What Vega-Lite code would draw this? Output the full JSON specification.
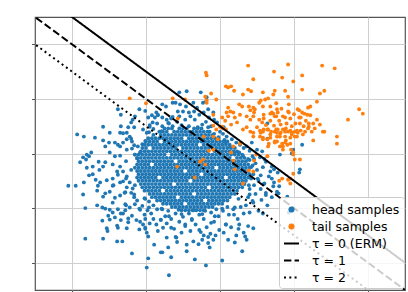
{
"$schema":"https://vega.github.io/schema/vega-lite/v6.json",
"width":370,"height":273,"autosize":"none",
"padding":{"left":35,"top":17,"right":3,"bottom":2},
"background":"white",
"config":{"view":{"stroke":"#555555","strokeWidth":1.2},"font":"DejaVu Sans"},
"datasets":{
"head":[
{"x":-0.75,"y":0.46},{"x":-0.7,"y":0.46},{"x":-0.65,"y":0.46},{"x":-0.55,"y":0.46},{"x":-0.5,"y":0.46},{"x":-0.45,"y":0.46},{"x":-0.35,"y":0.46},{"x":-0.3,"y":0.46},{"x":-0.25,"y":0.46},
{"x":-0.82,"y":0.4},{"x":-0.77,"y":0.4},{"x":-0.72,"y":0.4},{"x":-0.62,"y":0.4},{"x":-0.57,"y":0.4},{"x":-0.52,"y":0.4},{"x":-0.47,"y":0.4},{"x":-0.42,"y":0.4},{"x":-0.37,"y":0.4},{"x":-0.32,"y":0.4},{"x":-0.27,"y":0.4},{"x":-0.22,"y":0.4},{"x":-0.17,"y":0.4},
{"x":-0.9,"y":0.34},{"x":-0.8,"y":0.34},{"x":-0.75,"y":0.34},{"x":-0.7,"y":0.34},{"x":-0.65,"y":0.34},{"x":-0.6,"y":0.34},{"x":-0.55,"y":0.34},{"x":-0.5,"y":0.34},{"x":-0.45,"y":0.34},{"x":-0.4,"y":0.34},{"x":-0.35,"y":0.34},{"x":-0.3,"y":0.34},{"x":-0.25,"y":0.34},{"x":-0.2,"y":0.34},{"x":-0.15,"y":0.34},{"x":-0.1,"y":0.34},
{"x":-0.97,"y":0.28},{"x":-0.92,"y":0.28},{"x":-0.87,"y":0.28},{"x":-0.82,"y":0.28},{"x":-0.77,"y":0.28},{"x":-0.72,"y":0.28},{"x":-0.67,"y":0.28},{"x":-0.62,"y":0.28},{"x":-0.57,"y":0.28},{"x":-0.52,"y":0.28},{"x":-0.42,"y":0.28},{"x":-0.37,"y":0.28},{"x":-0.32,"y":0.28},{"x":-0.27,"y":0.28},{"x":-0.22,"y":0.28},{"x":-0.17,"y":0.28},{"x":-0.12,"y":0.28},{"x":-0.07,"y":0.28},{"x":-0.02,"y":0.28},
{"x":-1,"y":0.22},{"x":-0.95,"y":0.22},{"x":-0.9,"y":0.22},{"x":-0.85,"y":0.22},{"x":-0.75,"y":0.22},{"x":-0.7,"y":0.22},{"x":-0.65,"y":0.22},{"x":-0.6,"y":0.22},{"x":-0.55,"y":0.22},{"x":-0.5,"y":0.22},{"x":-0.45,"y":0.22},{"x":-0.4,"y":0.22},{"x":-0.35,"y":0.22},{"x":-0.3,"y":0.22},{"x":-0.25,"y":0.22},{"x":-0.2,"y":0.22},{"x":-0.15,"y":0.22},{"x":-0.1,"y":0.22},{"x":-0.05,"y":0.22},{"x":0,"y":0.22},{"x":0.05,"y":0.22},
{"x":-1.02,"y":0.16},{"x":-0.97,"y":0.16},{"x":-0.92,"y":0.16},{"x":-0.87,"y":0.16},{"x":-0.82,"y":0.16},{"x":-0.77,"y":0.16},{"x":-0.72,"y":0.16},{"x":-0.67,"y":0.16},{"x":-0.62,"y":0.16},{"x":-0.57,"y":0.16},{"x":-0.52,"y":0.16},{"x":-0.47,"y":0.16},{"x":-0.42,"y":0.16},{"x":-0.37,"y":0.16},{"x":-0.32,"y":0.16},{"x":-0.22,"y":0.16},{"x":-0.17,"y":0.16},{"x":-0.12,"y":0.16},{"x":-0.07,"y":0.16},{"x":-0.02,"y":0.16},{"x":0.03,"y":0.16},{"x":0.08,"y":0.16},{"x":0.13,"y":0.16},
{"x":-1.05,"y":0.1},{"x":-1,"y":0.1},{"x":-0.9,"y":0.1},{"x":-0.85,"y":0.1},{"x":-0.8,"y":0.1},{"x":-0.75,"y":0.1},{"x":-0.7,"y":0.1},{"x":-0.65,"y":0.1},{"x":-0.6,"y":0.1},{"x":-0.5,"y":0.1},{"x":-0.45,"y":0.1},{"x":-0.4,"y":0.1},{"x":-0.35,"y":0.1},{"x":-0.3,"y":0.1},{"x":-0.25,"y":0.1},{"x":-0.2,"y":0.1},{"x":-0.15,"y":0.1},{"x":-0.1,"y":0.1},{"x":-0.05,"y":0.1},{"x":0,"y":0.1},{"x":0.05,"y":0.1},{"x":0.1,"y":0.1},{"x":0.15,"y":0.1},
{"x":-1.07,"y":0.04},{"x":-1.02,"y":0.04},{"x":-0.97,"y":0.04},{"x":-0.92,"y":0.04},{"x":-0.87,"y":0.04},{"x":-0.82,"y":0.04},{"x":-0.77,"y":0.04},{"x":-0.72,"y":0.04},{"x":-0.67,"y":0.04},{"x":-0.62,"y":0.04},{"x":-0.57,"y":0.04},{"x":-0.52,"y":0.04},{"x":-0.47,"y":0.04},{"x":-0.42,"y":0.04},{"x":-0.37,"y":0.04},{"x":-0.32,"y":0.04},{"x":-0.27,"y":0.04},{"x":-0.22,"y":0.04},{"x":-0.17,"y":0.04},{"x":-0.07,"y":0.04},{"x":-0.02,"y":0.04},{"x":0.03,"y":0.04},{"x":0.08,"y":0.04},{"x":0.13,"y":0.04},{"x":0.18,"y":0.04},{"x":0.23,"y":0.04},
{"x":-1.1,"y":-0.02},{"x":-1.05,"y":-0.02},{"x":-1,"y":-0.02},{"x":-0.95,"y":-0.02},{"x":-0.9,"y":-0.02},{"x":-0.85,"y":-0.02},{"x":-0.8,"y":-0.02},{"x":-0.75,"y":-0.02},{"x":-0.65,"y":-0.02},{"x":-0.6,"y":-0.02},{"x":-0.55,"y":-0.02},{"x":-0.5,"y":-0.02},{"x":-0.45,"y":-0.02},{"x":-0.4,"y":-0.02},{"x":-0.35,"y":-0.02},{"x":-0.3,"y":-0.02},{"x":-0.25,"y":-0.02},{"x":-0.2,"y":-0.02},{"x":-0.15,"y":-0.02},{"x":-0.1,"y":-0.02},{"x":-0.05,"y":-0.02},{"x":0,"y":-0.02},{"x":0.05,"y":-0.02},{"x":0.1,"y":-0.02},{"x":0.15,"y":-0.02},{"x":0.2,"y":-0.02},{"x":0.25,"y":-0.02},
{"x":-1.12,"y":-0.08},{"x":-1.07,"y":-0.08},{"x":-1.02,"y":-0.08},{"x":-0.97,"y":-0.08},{"x":-0.92,"y":-0.08},{"x":-0.87,"y":-0.08},{"x":-0.82,"y":-0.08},{"x":-0.77,"y":-0.08},{"x":-0.72,"y":-0.08},{"x":-0.67,"y":-0.08},{"x":-0.62,"y":-0.08},{"x":-0.57,"y":-0.08},{"x":-0.52,"y":-0.08},{"x":-0.47,"y":-0.08},{"x":-0.42,"y":-0.08},{"x":-0.37,"y":-0.08},{"x":-0.32,"y":-0.08},{"x":-0.27,"y":-0.08},{"x":-0.22,"y":-0.08},{"x":-0.17,"y":-0.08},{"x":-0.12,"y":-0.08},{"x":-0.07,"y":-0.08},{"x":-0.02,"y":-0.08},{"x":0.03,"y":-0.08},{"x":0.08,"y":-0.08},{"x":0.13,"y":-0.08},{"x":0.23,"y":-0.08},{"x":0.28,"y":-0.08},{"x":0.33,"y":-0.08},
{"x":-1.1,"y":-0.14},{"x":-1.05,"y":-0.14},{"x":-1,"y":-0.14},{"x":-0.95,"y":-0.14},{"x":-0.9,"y":-0.14},{"x":-0.85,"y":-0.14},{"x":-0.8,"y":-0.14},{"x":-0.75,"y":-0.14},{"x":-0.7,"y":-0.14},{"x":-0.65,"y":-0.14},{"x":-0.55,"y":-0.14},{"x":-0.5,"y":-0.14},{"x":-0.45,"y":-0.14},{"x":-0.4,"y":-0.14},{"x":-0.35,"y":-0.14},{"x":-0.3,"y":-0.14},{"x":-0.25,"y":-0.14},{"x":-0.2,"y":-0.14},{"x":-0.15,"y":-0.14},{"x":-0.1,"y":-0.14},{"x":-0.05,"y":-0.14},{"x":0,"y":-0.14},{"x":0.05,"y":-0.14},{"x":0.1,"y":-0.14},{"x":0.15,"y":-0.14},{"x":0.2,"y":-0.14},{"x":0.25,"y":-0.14},{"x":0.3,"y":-0.14},{"x":0.35,"y":-0.14},
{"x":-1.12,"y":-0.2},{"x":-1.07,"y":-0.2},{"x":-1.02,"y":-0.2},{"x":-0.97,"y":-0.2},{"x":-0.87,"y":-0.2},{"x":-0.82,"y":-0.2},{"x":-0.77,"y":-0.2},{"x":-0.72,"y":-0.2},{"x":-0.67,"y":-0.2},{"x":-0.62,"y":-0.2},{"x":-0.57,"y":-0.2},{"x":-0.52,"y":-0.2},{"x":-0.47,"y":-0.2},{"x":-0.42,"y":-0.2},{"x":-0.37,"y":-0.2},{"x":-0.32,"y":-0.2},{"x":-0.27,"y":-0.2},{"x":-0.22,"y":-0.2},{"x":-0.17,"y":-0.2},{"x":-0.12,"y":-0.2},{"x":-0.07,"y":-0.2},{"x":-0.02,"y":-0.2},{"x":0.03,"y":-0.2},{"x":0.08,"y":-0.2},{"x":0.13,"y":-0.2},{"x":0.18,"y":-0.2},{"x":0.23,"y":-0.2},{"x":0.28,"y":-0.2},{"x":0.33,"y":-0.2},{"x":0.38,"y":-0.2},
{"x":-1.15,"y":-0.26},{"x":-1.1,"y":-0.26},{"x":-1.05,"y":-0.26},{"x":-1,"y":-0.26},{"x":-0.95,"y":-0.26},{"x":-0.9,"y":-0.26},{"x":-0.85,"y":-0.26},{"x":-0.8,"y":-0.26},{"x":-0.75,"y":-0.26},{"x":-0.7,"y":-0.26},{"x":-0.65,"y":-0.26},{"x":-0.6,"y":-0.26},{"x":-0.55,"y":-0.26},{"x":-0.5,"y":-0.26},{"x":-0.45,"y":-0.26},{"x":-0.4,"y":-0.26},{"x":-0.35,"y":-0.26},{"x":-0.3,"y":-0.26},{"x":-0.25,"y":-0.26},{"x":-0.2,"y":-0.26},{"x":-0.15,"y":-0.26},{"x":-0.1,"y":-0.26},{"x":0,"y":-0.26},{"x":0.05,"y":-0.26},{"x":0.1,"y":-0.26},{"x":0.15,"y":-0.26},{"x":0.2,"y":-0.26},{"x":0.25,"y":-0.26},{"x":0.3,"y":-0.26},{"x":0.35,"y":-0.26},{"x":0.4,"y":-0.26},
{"x":-1.12,"y":-0.32},{"x":-1.07,"y":-0.32},{"x":-1.02,"y":-0.32},{"x":-0.97,"y":-0.32},{"x":-0.92,"y":-0.32},{"x":-0.87,"y":-0.32},{"x":-0.82,"y":-0.32},{"x":-0.77,"y":-0.32},{"x":-0.72,"y":-0.32},{"x":-0.67,"y":-0.32},{"x":-0.62,"y":-0.32},{"x":-0.57,"y":-0.32},{"x":-0.52,"y":-0.32},{"x":-0.42,"y":-0.32},{"x":-0.37,"y":-0.32},{"x":-0.32,"y":-0.32},{"x":-0.27,"y":-0.32},{"x":-0.22,"y":-0.32},{"x":-0.17,"y":-0.32},{"x":-0.12,"y":-0.32},{"x":-0.07,"y":-0.32},{"x":-0.02,"y":-0.32},{"x":0.03,"y":-0.32},{"x":0.08,"y":-0.32},{"x":0.13,"y":-0.32},{"x":0.18,"y":-0.32},{"x":0.23,"y":-0.32},{"x":0.28,"y":-0.32},{"x":0.33,"y":-0.32},{"x":0.38,"y":-0.32},
{"x":-1.1,"y":-0.38},{"x":-1.05,"y":-0.38},{"x":-1,"y":-0.38},{"x":-0.95,"y":-0.38},{"x":-0.9,"y":-0.38},{"x":-0.85,"y":-0.38},{"x":-0.8,"y":-0.38},{"x":-0.75,"y":-0.38},{"x":-0.7,"y":-0.38},{"x":-0.65,"y":-0.38},{"x":-0.6,"y":-0.38},{"x":-0.55,"y":-0.38},{"x":-0.5,"y":-0.38},{"x":-0.45,"y":-0.38},{"x":-0.4,"y":-0.38},{"x":-0.35,"y":-0.38},{"x":-0.3,"y":-0.38},{"x":-0.2,"y":-0.38},{"x":-0.15,"y":-0.38},{"x":-0.1,"y":-0.38},{"x":-0.05,"y":-0.38},{"x":0,"y":-0.38},{"x":0.05,"y":-0.38},{"x":0.1,"y":-0.38},{"x":0.15,"y":-0.38},{"x":0.2,"y":-0.38},{"x":0.25,"y":-0.38},{"x":0.3,"y":-0.38},{"x":0.35,"y":-0.38},{"x":0.4,"y":-0.38},
{"x":-1.12,"y":-0.44},{"x":-1.07,"y":-0.44},{"x":-1.02,"y":-0.44},{"x":-0.97,"y":-0.44},{"x":-0.92,"y":-0.44},{"x":-0.87,"y":-0.44},{"x":-0.77,"y":-0.44},{"x":-0.72,"y":-0.44},{"x":-0.67,"y":-0.44},{"x":-0.62,"y":-0.44},{"x":-0.57,"y":-0.44},{"x":-0.52,"y":-0.44},{"x":-0.47,"y":-0.44},{"x":-0.42,"y":-0.44},{"x":-0.37,"y":-0.44},{"x":-0.32,"y":-0.44},{"x":-0.27,"y":-0.44},{"x":-0.22,"y":-0.44},{"x":-0.17,"y":-0.44},{"x":-0.12,"y":-0.44},{"x":-0.07,"y":-0.44},{"x":-0.02,"y":-0.44},{"x":0.03,"y":-0.44},{"x":0.13,"y":-0.44},{"x":0.18,"y":-0.44},{"x":0.23,"y":-0.44},{"x":0.28,"y":-0.44},{"x":0.33,"y":-0.44},{"x":0.38,"y":-0.44},
{"x":-1.1,"y":-0.5},{"x":-1.05,"y":-0.5},{"x":-1,"y":-0.5},{"x":-0.95,"y":-0.5},{"x":-0.9,"y":-0.5},{"x":-0.85,"y":-0.5},{"x":-0.8,"y":-0.5},{"x":-0.75,"y":-0.5},{"x":-0.7,"y":-0.5},{"x":-0.65,"y":-0.5},{"x":-0.6,"y":-0.5},{"x":-0.55,"y":-0.5},{"x":-0.5,"y":-0.5},{"x":-0.45,"y":-0.5},{"x":-0.35,"y":-0.5},{"x":-0.3,"y":-0.5},{"x":-0.25,"y":-0.5},{"x":-0.2,"y":-0.5},{"x":-0.15,"y":-0.5},{"x":-0.1,"y":-0.5},{"x":-0.05,"y":-0.5},{"x":0,"y":-0.5},{"x":0.05,"y":-0.5},{"x":0.1,"y":-0.5},{"x":0.15,"y":-0.5},{"x":0.2,"y":-0.5},{"x":0.25,"y":-0.5},{"x":0.3,"y":-0.5},{"x":0.35,"y":-0.5},
{"x":-1.07,"y":-0.56},{"x":-1.02,"y":-0.56},{"x":-0.97,"y":-0.56},{"x":-0.92,"y":-0.56},{"x":-0.87,"y":-0.56},{"x":-0.82,"y":-0.56},{"x":-0.77,"y":-0.56},{"x":-0.72,"y":-0.56},{"x":-0.67,"y":-0.56},{"x":-0.57,"y":-0.56},{"x":-0.52,"y":-0.56},{"x":-0.47,"y":-0.56},{"x":-0.42,"y":-0.56},{"x":-0.37,"y":-0.56},{"x":-0.32,"y":-0.56},{"x":-0.27,"y":-0.56},{"x":-0.22,"y":-0.56},{"x":-0.17,"y":-0.56},{"x":-0.12,"y":-0.56},{"x":-0.07,"y":-0.56},{"x":-0.02,"y":-0.56},{"x":0.03,"y":-0.56},{"x":0.08,"y":-0.56},{"x":0.13,"y":-0.56},{"x":0.18,"y":-0.56},{"x":0.23,"y":-0.56},{"x":0.28,"y":-0.56},{"x":0.33,"y":-0.56},
{"x":-1.05,"y":-0.62},{"x":-1,"y":-0.62},{"x":-0.95,"y":-0.62},{"x":-0.9,"y":-0.62},{"x":-0.85,"y":-0.62},{"x":-0.8,"y":-0.62},{"x":-0.75,"y":-0.62},{"x":-0.7,"y":-0.62},{"x":-0.65,"y":-0.62},{"x":-0.6,"y":-0.62},{"x":-0.55,"y":-0.62},{"x":-0.5,"y":-0.62},{"x":-0.45,"y":-0.62},{"x":-0.4,"y":-0.62},{"x":-0.35,"y":-0.62},{"x":-0.3,"y":-0.62},{"x":-0.25,"y":-0.62},{"x":-0.2,"y":-0.62},{"x":-0.1,"y":-0.62},{"x":-0.05,"y":-0.62},{"x":0,"y":-0.62},{"x":0.05,"y":-0.62},{"x":0.1,"y":-0.62},{"x":0.15,"y":-0.62},{"x":0.2,"y":-0.62},{"x":0.25,"y":-0.62},{"x":0.3,"y":-0.62},
{"x":-1.02,"y":-0.68},{"x":-0.97,"y":-0.68},{"x":-0.92,"y":-0.68},{"x":-0.87,"y":-0.68},{"x":-0.82,"y":-0.68},{"x":-0.72,"y":-0.68},{"x":-0.67,"y":-0.68},{"x":-0.62,"y":-0.68},{"x":-0.57,"y":-0.68},{"x":-0.52,"y":-0.68},{"x":-0.47,"y":-0.68},{"x":-0.42,"y":-0.68},{"x":-0.37,"y":-0.68},{"x":-0.32,"y":-0.68},{"x":-0.27,"y":-0.68},{"x":-0.22,"y":-0.68},{"x":-0.17,"y":-0.68},{"x":-0.12,"y":-0.68},{"x":-0.07,"y":-0.68},{"x":-0.02,"y":-0.68},{"x":0.03,"y":-0.68},{"x":0.08,"y":-0.68},{"x":0.13,"y":-0.68},{"x":0.18,"y":-0.68},{"x":0.23,"y":-0.68},
{"x":-0.95,"y":-0.74},{"x":-0.9,"y":-0.74},{"x":-0.85,"y":-0.74},{"x":-0.8,"y":-0.74},{"x":-0.75,"y":-0.74},{"x":-0.7,"y":-0.74},{"x":-0.65,"y":-0.74},{"x":-0.6,"y":-0.74},{"x":-0.55,"y":-0.74},{"x":-0.5,"y":-0.74},{"x":-0.45,"y":-0.74},{"x":-0.4,"y":-0.74},{"x":-0.3,"y":-0.74},{"x":-0.25,"y":-0.74},{"x":-0.2,"y":-0.74},{"x":-0.15,"y":-0.74},{"x":-0.1,"y":-0.74},{"x":-0.05,"y":-0.74},{"x":0,"y":-0.74},{"x":0.05,"y":-0.74},{"x":0.1,"y":-0.74},{"x":0.15,"y":-0.74},{"x":0.2,"y":-0.74},
{"x":-0.92,"y":-0.8},{"x":-0.87,"y":-0.8},{"x":-0.82,"y":-0.8},{"x":-0.77,"y":-0.8},{"x":-0.72,"y":-0.8},{"x":-0.67,"y":-0.8},{"x":-0.62,"y":-0.8},{"x":-0.52,"y":-0.8},{"x":-0.47,"y":-0.8},{"x":-0.42,"y":-0.8},{"x":-0.37,"y":-0.8},{"x":-0.32,"y":-0.8},{"x":-0.27,"y":-0.8},{"x":-0.22,"y":-0.8},{"x":-0.17,"y":-0.8},{"x":-0.12,"y":-0.8},{"x":-0.07,"y":-0.8},{"x":-0.02,"y":-0.8},{"x":0.03,"y":-0.8},{"x":0.08,"y":-0.8},{"x":0.13,"y":-0.8},
{"x":-0.85,"y":-0.86},{"x":-0.8,"y":-0.86},{"x":-0.75,"y":-0.86},{"x":-0.7,"y":-0.86},{"x":-0.65,"y":-0.86},{"x":-0.6,"y":-0.86},{"x":-0.55,"y":-0.86},{"x":-0.5,"y":-0.86},{"x":-0.45,"y":-0.86},{"x":-0.4,"y":-0.86},{"x":-0.35,"y":-0.86},{"x":-0.3,"y":-0.86},{"x":-0.25,"y":-0.86},{"x":-0.15,"y":-0.86},{"x":-0.1,"y":-0.86},{"x":-0.05,"y":-0.86},{"x":0,"y":-0.86},{"x":0.05,"y":-0.86},{"x":0.1,"y":-0.86},
{"x":-0.77,"y":-0.92},{"x":-0.72,"y":-0.92},{"x":-0.67,"y":-0.92},{"x":-0.62,"y":-0.92},{"x":-0.57,"y":-0.92},{"x":-0.52,"y":-0.92},{"x":-0.42,"y":-0.92},{"x":-0.37,"y":-0.92},{"x":-0.32,"y":-0.92},{"x":-0.27,"y":-0.92},{"x":-0.22,"y":-0.92},{"x":-0.17,"y":-0.92},{"x":-0.12,"y":-0.92},{"x":-0.07,"y":-0.92},{"x":-0.02,"y":-0.92},{"x":0.03,"y":-0.92},
{"x":-0.65,"y":-0.98},{"x":-0.6,"y":-0.98},{"x":-0.55,"y":-0.98},{"x":-0.5,"y":-0.98},{"x":-0.45,"y":-0.98},{"x":-0.4,"y":-0.98},{"x":-0.35,"y":-0.98},{"x":-0.3,"y":-0.98},{"x":-0.25,"y":-0.98},{"x":-0.2,"y":-0.98},{"x":-0.15,"y":-0.98},{"x":-0.1,"y":-0.98},
{"x":-0.52,"y":-1.04},{"x":-0.47,"y":-1.04},{"x":-0.42,"y":-1.04},{"x":-0.37,"y":-1.04},{"x":-0.32,"y":-1.04},{"x":-0.27,"y":-1.04},{"x":-0.22,"y":-1.04},
{"x":-2.05,"y":-0.59},{"x":-1.95,"y":-0.59},{"x":-1.84,"y":-0.53},{"x":-1.93,"y":0.35},{"x":-1.84,"y":0.31},{"x":-1.69,"y":0.29},{"x":-1.58,"y":0.24},{"x":-1.58,"y":0.49},{"x":-1.49,"y":0.38},{"x":-1.38,"y":0.81},{"x":-1.34,"y":0.71},{"x":-1.2,"y":0.57},{"x":-1.18,"y":0.62},{"x":-1.15,"y":0.68},{"x":-1.09,"y":0.81},{"x":-1.35,"y":0.38},{"x":-1.31,"y":0.37},{"x":-1.5,"y":0.2},{"x":-1.42,"y":0.2},{"x":-1.26,"y":0.26},{"x":-1.22,"y":0.31},{"x":-1.19,"y":0.22},
{"x":-1.74,"y":0.02},{"x":-1.77,"y":-0.05},{"x":-1.81,"y":-0.11},{"x":-1.85,"y":-0.07},{"x":-1.89,"y":-0.16},{"x":-1.8,"y":-0.02},{"x":-1.72,"y":-0.38},{"x":-1.77,"y":-0.4},{"x":-1.68,"y":-0.48},{"x":-1.8,"y":-0.26},{"x":-1.72,"y":-0.24},{"x":-1.64,"y":-0.15},{"x":-1.58,"y":-0.24},{"x":-1.55,"y":-0.16},{"x":-1.65,"y":-0.59},{"x":-1.66,"y":-0.68},{"x":-1.62,"y":-0.53},{"x":-1.53,"y":-0.49},{"x":-1.45,"y":-0.59},{"x":-1.35,"y":-0.53},{"x":-1.58,"y":-0.79},{"x":-1.49,"y":-0.7},{"x":-1.45,"y":-0.46},{"x":-1.85,"y":-0.75},
{"x":-1.49,"y":0.02},{"x":-1.42,"y":-0.05},{"x":-1.45,"y":-0.2},{"x":-1.39,"y":-0.33},{"x":-1.35,"y":-0.24},{"x":-1.31,"y":-0.33},{"x":-1.26,"y":-0.42},{"x":-1.31,"y":-0.51},{"x":-1.26,"y":-0.62},{"x":-1.22,"y":-0.53},{"x":-1.35,"y":0.13},{"x":-1.31,"y":0.2},{"x":-1.26,"y":0.07},{"x":-1.19,"y":0.09},{"x":-1.15,"y":-0.02},{"x":-1.11,"y":0.13},{"x":-1.26,"y":0.38},{"x":-1.24,"y":0.48},{"x":-1.05,"y":0.17},{"x":-1.08,"y":0.02},{"x":-1.12,"y":-0.09},
{"x":-0.99,"y":0.38},{"x":-1.04,"y":0.44},{"x":-0.95,"y":0.49},{"x":-0.91,"y":0.57},{"x":-0.97,"y":0.66},{"x":-0.92,"y":0.7},{"x":-0.88,"y":0.66},{"x":-0.84,"y":0.71},{"x":-0.78,"y":0.66},{"x":-0.72,"y":0.62},
{"x":-1.82,"y":-1},{"x":-1.82,"y":-1.56},{"x":-1.58,"y":-1.56},{"x":-1.39,"y":-1.61},{"x":-1.32,"y":-1.61},{"x":-1.19,"y":-1.83},{"x":-1.66,"y":-0.95},{"x":-1.59,"y":-0.99},{"x":-1.55,"y":-1.01},{"x":-1.51,"y":-1.14},{"x":-1.59,"y":-1.23},{"x":-1.53,"y":-1.37},{"x":-1.52,"y":-1.42},{"x":-1.39,"y":-1.32},{"x":-1.38,"y":-1.36},{"x":-1.26,"y":-1.37},{"x":-1.42,"y":-0.81},{"x":-1.35,"y":-0.77},{"x":-1.28,"y":-0.71},{"x":-1.18,"y":-0.64},{"x":-1.45,"y":-1.08},{"x":-1.31,"y":-1.1},{"x":-1.24,"y":-1.19},{"x":-1.19,"y":-1.14},{"x":-1.27,"y":-0.95},
{"x":-0.97,"y":-1.92},{"x":-0.99,"y":-2.09},{"x":-0.69,"y":-2.23},{"x":-0.89,"y":-1.67},{"x":-0.8,"y":-1.81},{"x":-0.72,"y":-1.54},{"x":-0.7,"y":-1.72},{"x":-1.09,"y":-1.39},{"x":-1.01,"y":-1.36},{"x":-0.97,"y":-1.52},{"x":-0.99,"y":-1.45},{"x":-1.49,"y":-1.21},{"x":-1.42,"y":-1.17},{"x":-1.34,"y":-1.22},{"x":-1.24,"y":-1.26},{"x":-1.13,"y":-1.22},{"x":-1.08,"y":-1.25},{"x":-1.04,"y":-1.3},{"x":-1.45,"y":-0.9},{"x":-1.38,"y":-1.02},{"x":-1.49,"y":-1.03},{"x":-1.28,"y":-1.04},{"x":-1.22,"y":-0.99},{"x":-1.15,"y":-0.93},{"x":-1.08,"y":-1.03},
{"x":-1.16,"y":-0.8},{"x":-1.2,"y":-0.72},{"x":-1.12,"y":-0.86},{"x":-1.05,"y":-0.96},{"x":-0.98,"y":-1.04},{"x":-1.02,"y":-1.12},{"x":-0.93,"y":-1.1},{"x":-0.9,"y":-1.2},{"x":-0.95,"y":-1.28},{"x":-0.86,"y":-1.3},{"x":-0.8,"y":-1.22},{"x":-0.77,"y":-1.36},{"x":-0.84,"y":-1.42},{"x":-0.72,"y":-1.28},{"x":-1.02,"y":-0.82},{"x":-0.96,"y":-0.88},{"x":-0.9,"y":-0.95},{"x":-0.85,"y":-1.02},
{"x":-0.78,"y":-1.81},{"x":-0.66,"y":-1.9},{"x":-0.19,"y":-2.05},{"x":0.03,"y":-1.96},{"x":-0.34,"y":-1.94},{"x":0.3,"y":-1.79},{"x":0.45,"y":-1.37},{"x":-0.59,"y":-1.54},{"x":-0.58,"y":-1.62},{"x":-0.45,"y":-1.79},{"x":-0.45,"y":-1.67},{"x":-0.36,"y":-1.61},{"x":-0.29,"y":-1.66},{"x":-0.24,"y":-1.58},{"x":-0.14,"y":-1.72},{"x":-0.16,"y":-1.64},{"x":-0.09,"y":-1.58},{"x":-0.22,"y":-1.5},{"x":0.05,"y":-1.45},{"x":-0.01,"y":-1.4},{"x":-0.06,"y":-1.5},{"x":0.11,"y":-1.58},{"x":0.2,"y":-1.63},{"x":0.22,"y":-1.5},{"x":0.34,"y":-1.52},{"x":0.36,"y":-1.58},{"x":0.32,"y":-1.45},{"x":0.38,"y":-1.33},
{"x":-0.74,"y":-1.15},{"x":-0.66,"y":-1.2},{"x":-0.6,"y":-1.1},{"x":-0.55,"y":-1.25},{"x":-0.5,"y":-1.16},{"x":-0.47,"y":-1.33},{"x":-0.42,"y":-1.1},{"x":-0.38,"y":-1.22},{"x":-0.33,"y":-1.3},{"x":-0.28,"y":-1.12},{"x":-0.22,"y":-1.2},{"x":-0.18,"y":-1.35},{"x":-0.12,"y":-1.08},{"x":-0.08,"y":-1.25},{"x":-0.02,"y":-1.15},{"x":0.04,"y":-1.05},{"x":0.08,"y":-1.3},{"x":0.12,"y":-1.12},{"x":0.18,"y":-1.02},{"x":0.24,"y":-1.2},{"x":0.28,"y":-0.98},{"x":0.32,"y":-1.1},{"x":-0.62,"y":-1.38},{"x":-0.52,"y":-1.45},{"x":-0.4,"y":-1.42},{"x":-0.26,"y":-1.44},{"x":-0.13,"y":-1.47},{"x":0.15,"y":-1.35},{"x":0.26,"y":-1.3},{"x":-0.7,"y":-1.05},{"x":-0.56,"y":-1.03},{"x":-0.36,"y":-1.04},{"x":-0.2,"y":-1.05},{"x":-0.05,"y":-1.02},{"x":0.1,"y":-0.98},{"x":-0.78,"y":-1.02},
{"x":0.4,"y":0.05},{"x":0.44,"y":-0.05},{"x":0.4,"y":-0.12},{"x":0.48,"y":-0.18},{"x":0.42,"y":-0.25},{"x":0.5,"y":-0.3},{"x":0.45,"y":-0.38},{"x":0.55,"y":-0.4},{"x":0.42,"y":-0.46},{"x":0.52,"y":-0.5},{"x":0.6,"y":-0.55},{"x":0.46,"y":-0.58},{"x":0.4,"y":-0.65},{"x":0.55,"y":-0.65},{"x":0.62,"y":-0.72},{"x":0.48,"y":-0.74},{"x":0.38,"y":-0.8},{"x":0.56,"y":-0.85},{"x":0.7,"y":-0.8},{"x":0.45,"y":-0.9},{"x":0.64,"y":-0.95},{"x":0.35,"y":-0.95},{"x":0.52,"y":-1.05},{"x":0.72,"y":-0.6},{"x":0.66,"y":-0.42},{"x":0.58,"y":-0.25},{"x":0.6,"y":-0.1},
{"x":0.73,"y":-0.53},{"x":0.8,"y":-0.6},{"x":0.77,"y":-0.7},{"x":0.91,"y":-0.79},{"x":0.97,"y":-1.01},{"x":0.93,"y":-1.08},{"x":0.64,"y":0.55},{"x":0.64,"y":0.27},{"x":0.57,"y":0.04},{"x":0.62,"y":-0.15},{"x":0.7,"y":-0.24},{"x":0.73,"y":-0.29},{"x":0.68,"y":-0.33},{"x":0.78,"y":-0.35},{"x":0.7,"y":-0.46},{"x":0.81,"y":-0.02},{"x":0.97,"y":0},{"x":0.99,"y":0.07},{"x":1.11,"y":0.16},{"x":1.08,"y":-0.29},{"x":1.07,"y":-0.35},
{"x":-0.55,"y":1.12},{"x":-0.45,"y":1.14},{"x":-0.26,"y":1.12},{"x":-0.18,"y":1.03},{"x":-0.19,"y":0.95},{"x":-0.73,"y":0.86},{"x":-0.86,"y":0.75},{"x":-0.57,"y":0.77},{"x":-0.5,"y":0.77},{"x":-0.42,"y":0.75},{"x":-0.35,"y":0.77},{"x":-0.28,"y":0.71},{"x":-0.22,"y":0.75},{"x":-0.16,"y":0.81},{"x":-0.09,"y":0.75},{"x":-0.46,"y":0.86},{"x":-0.36,"y":0.93},{"x":-0.23,"y":0.93},{"x":-0.78,"y":0.9},{"x":-0.64,"y":0.93},{"x":-0.54,"y":0.9},{"x":-0.31,"y":0.84},
{"x":-0.34,"y":0.62},{"x":-0.24,"y":0.53},{"x":-0.16,"y":0.48},{"x":-0.04,"y":0.57},{"x":0,"y":0.4},{"x":0.09,"y":0.31},{"x":0.16,"y":0.26},{"x":0.27,"y":0.16},{"x":0.36,"y":0.13},{"x":0.43,"y":0.2},{"x":0.5,"y":0.07},{"x":0.54,"y":-0.07},
{"x":-0.85,"y":0.55},{"x":-0.78,"y":0.5},{"x":-0.7,"y":0.56},{"x":-0.64,"y":0.5},{"x":-0.58,"y":0.58},{"x":-0.52,"y":0.52},{"x":-0.47,"y":0.62},{"x":-0.42,"y":0.5},{"x":-0.3,"y":0.48},{"x":-0.19,"y":0.58},{"x":-0.12,"y":0.5},{"x":-0.08,"y":0.62},{"x":0.05,"y":0.48},{"x":-0.66,"y":0.64},{"x":-0.55,"y":0.68},{"x":-0.4,"y":0.68},{"x":-0.15,"y":0.66},{"x":-0.9,"y":0.45},
{"x":0.04,"y":0.36},{"x":0.1,"y":0.22},{"x":0.2,"y":0.1},{"x":0.26,"y":0.02},{"x":0.31,"y":-0.04},{"x":0.14,"y":0.12},{"x":0.06,"y":0.25},{"x":0.22,"y":0.2},{"x":0.32,"y":0.1},{"x":0.46,"y":-0.1},
{"x":-0.14,"y":0.4},{"x":-0.08,"y":0.36},{"x":-0.02,"y":0.3},{"x":0.08,"y":0.2},{"x":0.2,"y":0.02},{"x":0.3,"y":-0.02},{"x":0.38,"y":-0.1},{"x":0.44,"y":-0.22},
{"x":-1.2,"y":-0.3},{"x":-1.15,"y":-0.58},{"x":-1.01,"y":-0.83},{"x":-0.79,"y":-1.01},{"x":-0.52,"y":-1.11},{"x":-0.24,"y":-1.11},{"x":0.03,"y":-1.01},{"x":0.25,"y":-0.83},{"x":0.39,"y":-0.58},{"x":-1.15,"y":-0.02},{"x":-1.01,"y":0.23},{"x":-0.79,"y":0.41},
{"x":-1.27,"y":-0.46},{"x":-1.16,"y":-0.75},{"x":-0.96,"y":-0.99},{"x":-0.69,"y":-1.15},{"x":-0.38,"y":-1.2},{"x":-0.07,"y":-1.15},{"x":0.2,"y":-0.99},{"x":0.4,"y":-0.75},{"x":0.51,"y":-0.46},{"x":-1.27,"y":-0.14},{"x":-1.16,"y":0.15},{"x":-0.96,"y":0.39},{"x":-0.69,"y":0.55},
{"x":-1.38,"y":-0.39},{"x":-1.29,"y":-0.72},{"x":-1.09,"y":-1.01},{"x":-0.8,"y":-1.21},{"x":-0.47,"y":-1.3},{"x":-0.12,"y":-1.27},{"x":0.19,"y":-1.12},{"x":0.44,"y":-0.87},{"x":0.59,"y":-0.56},{"x":-1.35,"y":-0.04},{"x":-1.2,"y":0.27},{"x":-0.95,"y":0.52},{"x":-0.64,"y":0.67},
{"x":-1.44,"y":-0.58},{"x":-1.28,"y":-0.93},{"x":-1.01,"y":-1.2},{"x":-0.66,"y":-1.36},{"x":-0.28,"y":-1.4},{"x":0.08,"y":-1.3},{"x":0.4,"y":-1.08},{"x":0.62,"y":-0.76},{"x":-1.38,"y":0.16},{"x":-1.16,"y":0.48},{"x":-0.84,"y":0.7},
{"x":-1.63,"y":-0.3},{"x":-1.55,"y":-0.73},{"x":-1.34,"y":-1.1},{"x":-1.01,"y":-1.38},{"x":-0.6,"y":-1.53},{"x":-0.16,"y":-1.53},{"x":0.25,"y":-1.38},{"x":0.58,"y":-1.1},{"x":0.79,"y":-0.73},{"x":-1.55,"y":0.13},{"x":-1.34,"y":0.5},{"x":-1.01,"y":0.78},{"x":-0.6,"y":0.93}
],
"tail":[
{"x":0.92,"y":1.63},{"x":1.38,"y":1.61},{"x":1.55,"y":1.56},{"x":0.73,"y":1.5},{"x":0.84,"y":1.39},{"x":1.11,"y":1.43},{"x":0.99,"y":1.32},{"x":0.88,"y":1.15},{"x":1.11,"y":1.17},{"x":1.35,"y":1.1},{"x":1.41,"y":1.15},{"x":0.92,"y":1.04},{"x":1.31,"y":0.95},{"x":0.72,"y":1.08},{"x":0.76,"y":0.92},{"x":0.77,"y":0.81},{"x":0.93,"y":0.9},{"x":1.05,"y":0.81},{"x":1.19,"y":0.84},{"x":1.88,"y":0.81},{"x":1.93,"y":0.73},{"x":1.73,"y":0.62},
{"x":0.7,"y":0.75},{"x":0.85,"y":0.68},{"x":0.88,"y":0.66},{"x":0.95,"y":0.64},{"x":1.07,"y":0.66},{"x":1.09,"y":0.66},{"x":1.14,"y":0.73},{"x":1.22,"y":0.7},{"x":0.74,"y":0.68},{"x":0.93,"y":0.75},{"x":0.73,"y":0.51},{"x":0.76,"y":0.44},{"x":0.82,"y":0.53},{"x":0.85,"y":0.44},{"x":0.89,"y":0.46},{"x":0.95,"y":0.42},{"x":0.81,"y":0.37},{"x":0.97,"y":0.35},{"x":1.01,"y":0.31},{"x":1.04,"y":0.31},{"x":1.04,"y":0.42},{"x":1.08,"y":0.55},{"x":1.2,"y":0.55},{"x":1.26,"y":0.55},{"x":1.2,"y":0.49},{"x":1.28,"y":0.46},{"x":1.09,"y":0.42},{"x":1.12,"y":0.35},{"x":1.41,"y":0.4},{"x":1.58,"y":0.31},{"x":1.58,"y":0.18},{"x":1.26,"y":0.24},{"x":0.74,"y":0.22},{"x":0.89,"y":0.24},{"x":0.84,"y":0.18},{"x":0.95,"y":0.18},
{"x":0.38,"y":1.61},{"x":-0.19,"y":1.48},{"x":-0.18,"y":1.43},{"x":0.45,"y":1.36},{"x":0.08,"y":1.23},{"x":0.11,"y":1.21},{"x":0.15,"y":1.23},{"x":0.19,"y":1.15},{"x":0.38,"y":1.17},{"x":0.42,"y":1.14},{"x":0.31,"y":1.08},{"x":0.58,"y":1.12},{"x":0.74,"y":1.15},{"x":-0.18,"y":0.93},{"x":-0.12,"y":1.1},{"x":-0.05,"y":0.99},{"x":0.11,"y":0.84},{"x":0.26,"y":0.9},{"x":0.3,"y":0.86},{"x":0.39,"y":0.86},{"x":0.45,"y":0.84},{"x":0.47,"y":0.81},{"x":0.41,"y":0.79},{"x":0.46,"y":0.75},{"x":0.53,"y":0.93},{"x":0.55,"y":0.97},{"x":0.61,"y":0.99},{"x":0.65,"y":1.01},
{"x":0.14,"y":0.77},{"x":0.18,"y":0.75},{"x":0.09,"y":0.75},{"x":0.27,"y":0.71},{"x":0.2,"y":0.66},{"x":0.11,"y":0.68},{"x":0.03,"y":0.66},{"x":-0.09,"y":0.71},{"x":0.36,"y":0.68},{"x":0.45,"y":0.68},{"x":0.41,"y":0.62},{"x":0.53,"y":0.62},{"x":0.57,"y":0.57},{"x":0.59,"y":0.64},{"x":0.78,"y":0.75},{"x":0.68,"y":0.73},{"x":0.92,"y":0.77},{"x":1.07,"y":0.79},{"x":1.22,"y":0.86},{"x":0.07,"y":0.6},{"x":0.15,"y":0.53},{"x":0.23,"y":0.57},{"x":0,"y":0.49},{"x":0.04,"y":0.46},{"x":-0.09,"y":0.51},{"x":-0.05,"y":0.44},
{"x":0.31,"y":0.44},{"x":0.36,"y":0.48},{"x":0.41,"y":0.4},{"x":0.45,"y":0.38},{"x":0.5,"y":0.48},{"x":0.54,"y":0.42},{"x":0.65,"y":0.44},{"x":0.69,"y":0.4},{"x":0.77,"y":0.38},{"x":1.15,"y":0.4},{"x":1.19,"y":0.46},{"x":1.24,"y":0.4},{"x":1.35,"y":0.53},{"x":1.39,"y":0.4},{"x":0.45,"y":0.31},{"x":0.54,"y":0.31},{"x":0.58,"y":0.26},{"x":0.68,"y":0.29},{"x":0.65,"y":0.13},{"x":0.77,"y":0.22},{"x":0.81,"y":0.13},{"x":0.27,"y":0.18},{"x":0.18,"y":0.13},
{"x":-0.2,"y":1.04},{"x":-0.18,"y":0.97},{"x":-0.47,"y":0.99},{"x":-0.64,"y":1.01},{"x":-1,"y":0.92},{"x":-0.57,"y":0.64},{"x":-0.22,"y":0.31},{"x":-0.09,"y":0.31},{"x":-0.03,"y":0.26},{"x":0.08,"y":0.44},{"x":-0.27,"y":-0.15},{"x":-0.23,"y":-0.11},{"x":-0.2,"y":-0.2},{"x":-0.58,"y":-0.24},{"x":-0.34,"y":-0.44},{"x":-0.15,"y":0.05},{"x":-0.09,"y":0.07},{"x":0.15,"y":0.02},{"x":0.18,"y":-0.13},{"x":0.2,"y":-0.29},{"x":0.31,"y":-0.55},{"x":0.39,"y":-0.31},{"x":0.45,"y":-0.33},{"x":0.49,"y":-0.02},{"x":0.46,"y":-0.13},{"x":-1.22,"y":1.01},
{"x":0.58,"y":0.86},{"x":0.68,"y":0.86},{"x":0.59,"y":0.71},{"x":0.72,"y":0.73},{"x":0.76,"y":0.68},{"x":1.18,"y":0.71},{"x":1.11,"y":0.75},{"x":0.58,"y":0.4},{"x":0.64,"y":0.44},{"x":0.74,"y":0.4},{"x":0.78,"y":0.44},{"x":0.82,"y":0.38},{"x":0.88,"y":0.4},{"x":0.92,"y":0.4},{"x":0.97,"y":0.38},{"x":1.01,"y":0.4},{"x":1.05,"y":0.38},{"x":0.58,"y":0.29},{"x":0.64,"y":0.26},{"x":0.68,"y":0.35},{"x":0.77,"y":0.31},{"x":0.81,"y":0.31},{"x":0.88,"y":0.31},{"x":0.95,"y":0.29},{"x":0.74,"y":0.2},{"x":0.88,"y":0.2},{"x":0.91,"y":0.16},{"x":0.85,"y":0.13},{"x":0.85,"y":0.07},{"x":0.96,"y":0.07},{"x":0.99,"y":0.02},
{"x":0.99,"y":-0.02},{"x":1.08,"y":-0.11},{"x":1.01,"y":-0.11},{"x":0.64,"y":-0.05},{"x":0.99,"y":-0.37},{"x":0.95,"y":-0.46},{"x":0.95,"y":-0.55},{"x":0.84,"y":-0.46},{"x":0.8,"y":-0.5},{"x":0.92,"y":-0.48},{"x":0.66,"y":0.18},{"x":0.59,"y":0.44},{"x":0.55,"y":0.38},{"x":0.03,"y":0.49},{"x":1.31,"y":0.62},{"x":1.02,"y":0.55},{"x":1.16,"y":0.6},{"x":0.97,"y":0.5},{"x":1.13,"y":0.5},{"x":0.62,"y":0.52},{"x":0.68,"y":0.6},{"x":0.8,"y":0.6},{"x":0.9,"y":0.55},{"x":1.0,"y":0.72},{"x":0.83,"y":0.82}
],
"lines":[
{"s":"τ = 0 (ERM)","x":-2.6,"y":3.1},{"s":"τ = 0 (ERM)","x":2.6,"y":-2.1},
{"s":"τ = 1","x":-2.6,"y":2.6},{"s":"τ = 1","x":2.6,"y":-2.6},
{"s":"τ = 2","x":-2.6,"y":2.1},{"s":"τ = 2","x":2.6,"y":-3.1}
]
},
"encoding":{
"x":{"field":"x","type":"quantitative","scale":{"domain":[-2.5,2.5],"nice":false,"zero":false},
"axis":{"values":[-2,-1,0,1,2],"labels":false,"title":null,"domain":false,"ticks":true,"tickSize":3.5,"tickColor":"#555555","tickWidth":1,"grid":true,"gridColor":"#cfcfcf","gridWidth":1}},
"y":{"field":"y","type":"quantitative","scale":{"domain":[-2.5,2.5],"nice":false,"zero":false},
"axis":{"values":[-2,-1,0,1,2],"labels":false,"title":null,"domain":false,"ticks":true,"tickSize":3.5,"tickColor":"#555555","tickWidth":1,"grid":true,"gridColor":"#cfcfcf","gridWidth":1}}
},
"layer":[
{"data":{"name":"head"},"mark":{"type":"circle","size":15,"opacity":1},
"encoding":{"color":{"datum":"head samples","type":"nominal",
"scale":{"domain":["head samples","tail samples","τ = 0 (ERM)","τ = 1","τ = 2"],"range":["#1f77b4","#ff7f0e","#000000","#000000","#000000"]},
"legend":{"title":null,"orient":"none","legendX":244,"legendY":180,"padding":4,"fillColor":"rgba(255,255,255,0.8)","strokeColor":"#cccccc","cornerRadius":3,
"labelFont":"DejaVu Sans","labelFontSize":12.5,"labelColor":"#000000","labelOffset":12,"symbolSize":225,"symbolStrokeWidth":2,"rowPadding":2,"symbolType":"stroke",
"encode":{"symbols":{"update":{
"shape":{"signal":"datum.value == 'head samples' || datum.value == 'tail samples' ? 'circle' : 'stroke'"},
"size":{"signal":"datum.value == 'head samples' || datum.value == 'tail samples' ? 18 : 225"},
"fill":{"signal":"datum.value == 'head samples' ? '#1f77b4' : datum.value == 'tail samples' ? '#ff7f0e' : 'transparent'"},
"stroke":{"signal":"datum.value == 'head samples' || datum.value == 'tail samples' ? 'transparent' : '#000000'"},
"strokeDash":{"signal":"datum.value == 'τ = 1' ? [7.4,3.2] : datum.value == 'τ = 2' ? [2,3.3] : [1,0]"},
"strokeWidth":{"value":2},"opacity":{"value":1}}}}}}}},
{"data":{"name":"tail"},"mark":{"type":"circle","size":15,"opacity":1},
"encoding":{"color":{"datum":"tail samples","type":"nominal",
"legend":{"title":null,"orient":"none","legendX":244,"legendY":180,"padding":4,"fillColor":"rgba(255,255,255,0.8)","strokeColor":"#cccccc","cornerRadius":3,
"labelFont":"DejaVu Sans","labelFontSize":12.5,"labelColor":"#000000","labelOffset":12,"symbolSize":225,"symbolStrokeWidth":2,"rowPadding":2,"symbolType":"stroke",
"encode":{"symbols":{"update":{
"shape":{"signal":"datum.value == 'head samples' || datum.value == 'tail samples' ? 'circle' : 'stroke'"},
"size":{"signal":"datum.value == 'head samples' || datum.value == 'tail samples' ? 18 : 225"},
"fill":{"signal":"datum.value == 'head samples' ? '#1f77b4' : datum.value == 'tail samples' ? '#ff7f0e' : 'transparent'"},
"stroke":{"signal":"datum.value == 'head samples' || datum.value == 'tail samples' ? 'transparent' : '#000000'"},
"strokeDash":{"signal":"datum.value == 'τ = 1' ? [7.4,3.2] : datum.value == 'τ = 2' ? [2,3.3] : [1,0]"},
"strokeWidth":{"value":2},"opacity":{"value":1}}}}}}}},
{"data":{"name":"lines"},"mark":{"type":"line","strokeWidth":2,"clip":true},
"encoding":{"color":{"field":"s","type":"nominal",
"legend":{"title":null,"orient":"none","legendX":244,"legendY":180,"padding":4,"fillColor":"rgba(255,255,255,0.8)","strokeColor":"#cccccc","cornerRadius":3,
"labelFont":"DejaVu Sans","labelFontSize":12.5,"labelColor":"#000000","labelOffset":12,"symbolSize":225,"symbolStrokeWidth":2,"rowPadding":2,"symbolType":"stroke",
"encode":{"symbols":{"update":{
"shape":{"signal":"datum.value == 'head samples' || datum.value == 'tail samples' ? 'circle' : 'stroke'"},
"size":{"signal":"datum.value == 'head samples' || datum.value == 'tail samples' ? 18 : 225"},
"fill":{"signal":"datum.value == 'head samples' ? '#1f77b4' : datum.value == 'tail samples' ? '#ff7f0e' : 'transparent'"},
"stroke":{"signal":"datum.value == 'head samples' || datum.value == 'tail samples' ? 'transparent' : '#000000'"},
"strokeDash":{"signal":"datum.value == 'τ = 1' ? [7.4,3.2] : datum.value == 'τ = 2' ? [2,3.3] : [1,0]"},
"strokeWidth":{"value":2},"opacity":{"value":1}}}}}},
"strokeDash":{"field":"s","type":"nominal","scale":{"domain":["τ = 0 (ERM)","τ = 1","τ = 2"],"range":[[1,0],[7.4,3.2],[2,3.3]]},"legend":null}}}
]
}
